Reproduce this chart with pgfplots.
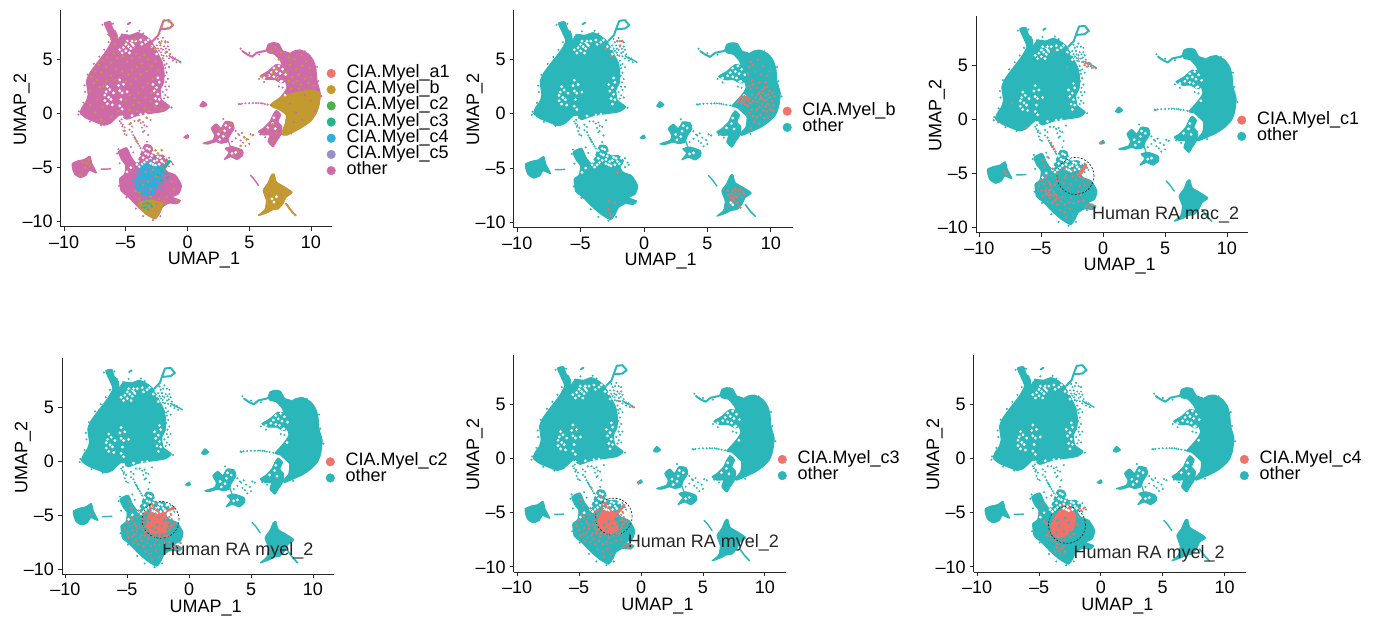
\documentclass[border=0pt]{standalone}
\usepackage{pgfplots}
\usepackage{fontspec}
\setmainfont{Liberation Sans}
\pgfplotsset{compat=1.18}
\definecolor{teal2}{HTML}{2BB7B9}
\definecolor{red2}{HTML}{EF736A}
\definecolor{gold2}{HTML}{C29A2F}
\definecolor{green1}{HTML}{4DB04A}
\definecolor{green2}{HTML}{25B58A}
\definecolor{blue2}{HTML}{2FAEDC}
\definecolor{purple2}{HTML}{9A8FC6}
\definecolor{pink2}{HTML}{CE6AA8}
\newcommand\fs{\fontsize{18}{20}\selectfont}
\pgfplotsset{
 umap/.style={
  scale only axis, clip=false, anchor=south west,
  xmin=-10.28,xmax=11.73,ymin=-10.5,ymax=9.57,
  axis lines=left, axis line style={-,line width=1pt,black!85},
  xtick={-10,-5,0,5,10}, xticklabels={–10,–5,0,5,10},
  ytick={-10,-5,0,5}, yticklabels={–10,–5,0,5},
  tick align=outside, major tick length=4pt, tick style={line width=0.8pt,black!85},
  tick label style={font=\fs},
  xticklabel style={yshift=-1.5pt},
  yticklabel style={xshift=-0.5pt},
  xlabel={UMAP\_1}, ylabel={UMAP\_2},
  label style={font=\fs},
  xlabel style={at={(axis description cs:0.5,0)},anchor=north,xshift=7.5pt,yshift=-22pt},
  ylabel style={at={(axis description cs:0,0.5)},anchor=south,rotate=0,yshift=27.5pt,xshift=9pt},
  legend cell align=left,
  legend style={draw=none,fill=none,inner sep=0pt,outer sep=0pt,row sep=0pt,
    anchor=north west,font=\fs,column sep=11pt,
    nodes={inner sep=0pt,text height=12.1pt,text depth=4.1pt}},
 },
 dots/.style={only marks,mark=*,mark size=#1,forget plot,mark options={draw=none}},
 blob/.style={fill=#1,draw=#1,line width=1pt,line join=round,forget plot,smooth cycle,tension=0.35},
 wire/.style={draw=#1,line width=2pt,line join=round,line cap=round,forget plot},
 lg/.style={only marks,mark=*,mark size=4.3pt,color=#1,mark options={draw=none}},
}
\newcommand\base[1]{%
% blob A: upper-left
\addplot[blob=#1] coordinates {(-8.70,0.03)(-8.54,0.59)(-8.22,1.12)(-8.06,1.74)(-8.19,2.98)(-7.91,3.76)(-7.43,4.53)(-6.90,5.31)(-6.51,5.93)(-6.17,6.71)(-6.43,7.48)(-6.75,8.35)(-6.25,8.48)(-6.06,7.86)(-5.72,7.33)(-5.64,6.55)(-5.32,5.62)(-4.66,5.62)(-4.01,5.93)(-3.48,6.40)(-2.82,6.40)(-2.37,5.47)(-2.03,4.69)(-1.90,3.76)(-1.95,2.83)(-2.21,2.20)(-2.11,1.27)(-1.45,0.65)(-1.95,0.19)(-3.21,-0.03)(-4.14,-0.22)(-4.93,-0.53)(-5.45,-0.12)(-5.72,-0.34)(-6.25,-0.90)(-6.77,-1.09)(-7.56,-0.75)(-8.22,-0.43)};
\addplot[blob=#1] coordinates {(-5.38,7.33)(-4.66,7.24)(-4.01,7.48)(-3.35,7.11)(-2.82,6.55)(-3.21,6.24)(-4.14,5.93)(-4.40,6.55)(-5.06,6.80)};
\addplot[blob=#1] coordinates {(-5.7,6.5)(-5.38,7.2)(-5.0,6.9)(-4.5,6.2)(-4.2,5.9)(-5.2,5.3)};
\addplot[wire=#1] coordinates {(-2.82,6.71)(-2.37,7.24)(-2.16,7.95)(-1.95,8.57)(-1.50,8.63)(-1.16,8.17)(-1.50,7.86)(-2.11,7.80)};
\addplot[wire=#1] coordinates {(-4.85,8.25)(-4.65,8.4)};
\addplot[wire=#1,line width=1.4pt] coordinates {(-1.5,5.35)(-1.2,5.1)(-0.85,4.95)(-0.55,4.75)};
\addplot[dots=0.8pt,color=#1] coordinates {(-2.3,6.6)(-2.1,6.7)(-1.8,6.7)(-1.6,6.6)(-2.2,6.3)(-1.9,6.2)(-1.6,6.2)(-1.5,5.9)(-2.0,5.9)(-2.3,5.8)(-1.8,5.6)(-1.4,5.5)(-2.1,5.4)(-1.7,5.3)(-1.5,5.1)(-1.2,5.2)(-1.0,5.1)(-0.9,4.75)(-1.2,4.9)(-1.9,4.9)(-1.7,4.6)(-1.5,4.3)(-1.7,3.8)(-1.6,3.2)(-1.5,2.5)(-1.7,2.2)(-1.8,1.7)(-1.6,1.5)(-2.0,7.0)(-2.4,6.9)(-4.9,7.6)(-3.9,7.65)(-3.6,7.4)
(-2.5,6.3)(-2.4,6.0)(-2.15,6.0)(-1.75,6.0)(-2.15,5.65)(-2.5,5.75)(-1.95,5.35)(-1.65,5.7)(-2.25,5.1)(-1.85,4.5)(-1.8,4.2)(-1.85,3.5)(-1.75,2.9)(-1.8,2.5)(-2.0,2.0)(-1.9,1.4)
(-8.8,0.2)(-8.45,1.0)(-8.3,2.0)(-8.35,2.6)(-8.1,3.6)(-7.6,4.6)(-7.15,5.25)(-6.75,5.9)(-6.4,6.6)(-6.9,8.2)(-6.05,8.3)(-5.85,7.6)(-8.85,-0.1)(-7.9,-0.75)(-7.0,-1.1)(-1.3,0.55)
(-5.5,-0.7)(-5.4,-0.9)(-5.3,-1.2)(-5.1,-1.3)(-5.2,-1.6)(-5.1,-1.9)(-4.95,-2.0)(-4.7,-1.0)(-4.5,-1.2)(-4.7,-1.5)(-4.5,-1.7)(-4.4,-2.0)(-4.3,-2.2)(-4.2,-2.4)(-4.1,-2.6)(-4.0,-2.8)(-3.9,-3.0)(-3.8,-3.2)(-4.3,-0.7)(-4.0,-0.7)(-3.8,-0.9)(-3.6,-0.8)(-3.5,-1.1)(-3.3,-1.2)(-3.7,-1.3)(-3.6,-1.7)(-3.5,-1.6)(-3.0,-0.6)(-3.2,-2.0)(-3.3,-2.6)(-4.25,-2.3)(-4.15,-2.55)(-5.25,-1.05)(-5.35,-0.55)};
% blob B: right crescent
\addplot[blob=#1] coordinates {(6.93,0.71)(7.46,1.40)(7.85,1.96)(8.06,2.45)(7.85,3.29)(7.80,4.22)(7.80,5.16)(8.17,5.47)(8.64,5.78)(9.17,5.87)(9.83,5.47)(10.22,4.84)(10.41,4.07)(10.49,2.98)(10.75,1.89)(10.62,0.65)(10.36,-0.12)(9.83,-0.75)(9.17,-1.27)(8.38,-1.68)(7.72,-1.99)(7.59,-1.83)(8.04,-1.21)(8.12,-0.28)(7.72,0.19)(7.33,0.59)};
\addplot[blob=#1] coordinates {(6.40,5.93)(6.53,6.40)(6.93,6.55)(7.38,6.46)(7.72,5.8)(8.3,5.5)(7.85,4.07)(7.54,4.84)(7.06,5.47)(6.53,5.62)};
\addplot[wire=#1] coordinates {(4.43,5.78)(4.82,5.47)(5.22,5.25)(5.61,5.62)(6.27,5.78)(6.53,5.93)};
\addplot[blob=#1] coordinates {(5.88,3.45)(6.53,3.91)(7.19,4.53)(7.85,4.3)(7.9,3.0)(7.59,2.83)(7.06,3.14)(6.40,3.14)};
\addplot[blob=#1] coordinates {(5.74,-1.68)(6.14,-1.37)(6.67,-0.75)(6.93,-0.12)(7.19,0.28)(7.54,-0.12)(7.33,-0.75)(7.64,-1.21)(7.54,-1.99)(7.19,-2.61)(6.93,-3.07)(6.53,-2.61)(6.67,-1.99)(6.14,-1.99)};
\addplot[dots=0.8pt,color=#1] coordinates {(4.16,0.87)(4.25,0.85)(4.4,0.9)(4.69,0.93)(5.0,0.95)(5.3,0.95)(5.55,0.96)(5.74,0.96)(5.95,0.95)(6.1,0.92)(6.27,0.87)(6.5,0.83)(6.8,0.77)(4.3,6.0)(5.8,3.2)(6.2,2.9)(7.4,2.5)(7.7,2.4)(5.9,-1.95)(6.3,-2.2)(10.85,1.6)(10.6,3.0)(10.5,4.3)(9.5,5.75)(8.4,-1.85)(5.8,5.45)(5.0,5.6)};
% blob C: middle cluster
\addplot[blob=#1] coordinates {(1.26,-2.76)(2.06,-2.45)(2.19,-1.99)(1.92,-1.37)(2.32,-0.96)(2.71,-1.37)(3.06,-0.75)(3.64,-0.84)(3.77,-1.37)(3.37,-2.14)(3.24,-2.61)(2.71,-2.76)(2.32,-2.61)(1.66,-2.83)};
\addplot[blob=#1] coordinates {(3.06,-3.23)(3.64,-3.07)(4.43,-3.39)(4.48,-3.85)(4.03,-4.25)(3.50,-4.01)(2.98,-4.25)(3.37,-3.63)};
\addplot[wire=#1,line width=1.2pt] coordinates {(3.3,-2.5)(3.5,-3.2)};
\addplot[dots=0.8pt,color=#1] coordinates {(3.9,-1.6)(4.2,-2.0)(4.6,-2.2)(5.1,-1.9)(5.3,-2.0)(4.9,-2.4)(4.5,-2.7)(4.3,-2.5)(3.9,-2.3)(4.7,-3.0)(5.0,-2.8)(4.1,-1.9)(3.6,-2.6)(2.9,-0.5)(4.4,-1.8)};
\addplot[blob=#1] coordinates {(-0.3,-2.2)(0.0,-1.95)(0.1,-2.2)(-0.1,-2.3)};
\addplot[blob=#1] coordinates {(1.0,0.71)(1.26,1.12)(1.58,0.8)(1.26,0.59)};
% blob D: lower
\addplot[blob=#1] coordinates {(-5.45,-6.80)(-5.51,-6.02)(-5.11,-5.62)(-5.01,-4.78)(-5.32,-4.32)(-5.59,-3.54)(-4.93,-3.17)(-4.58,-4.01)(-4.14,-4.63)(-3.87,-4.01)(-3.48,-2.92)(-2.95,-3.01)(-2.69,-3.85)(-2.03,-3.85)(-1.63,-4.32)(-1.90,-4.94)(-1.63,-5.40)(-0.97,-5.71)(-0.50,-6.65)(-0.71,-7.42)(-1.24,-7.73)(-0.58,-8.04)(-0.84,-8.35)(-1.50,-8.29)(-2.03,-8.66)(-2.29,-9.29)(-2.64,-9.75)(-3.35,-9.29)(-4.06,-8.60)(-4.80,-7.73)(-5.38,-7.17)};
\addplot[dots=0.8pt,color=#1] coordinates {(-1.5,-4.1)(-1.3,-4.5)(-1.2,-4.7)(-1.5,-4.9)(-5.6,-3.3)(-5.7,-3.7)(-4.6,-3.1)(-4.4,-3.6)(-5.5,-4.6)(-5.55,-6.7)(-4.95,-7.75)(-4.2,-8.8)(-3.6,-9.5)(-2.8,-9.85)(-2.2,-9.5)};
% blob E: far left
\addplot[blob=#1] coordinates {(-9.35,-4.63)(-8.88,-4.38)(-8.35,-4.25)(-7.91,-3.94)(-7.75,-4.63)(-7.38,-5.50)(-7.96,-5.25)(-8.22,-5.71)(-8.70,-5.93)(-9.14,-5.62)(-9.32,-5.09)};
\addplot[wire=#1,line width=1.4pt] coordinates {(-7.0,-5.15)(-6.6,-5.15)(-6.25,-5.12)};
% blob F: lower right
\addplot[blob=#1] coordinates {(6.80,-5.71)(7.01,-5.62)(7.19,-6.34)(7.85,-6.80)(8.46,-7.30)(7.98,-7.73)(7.72,-8.35)(7.33,-8.82)(6.85,-8.91)(6.53,-9.13)(5.74,-9.44)(6.27,-8.91)(6.40,-8.04)(6.14,-7.11)(6.53,-6.43)};
\addplot[wire=#1,line width=1.4pt] coordinates {(5.09,-5.71)(5.35,-6.02)(5.74,-6.65)};
\addplot[wire=#1,line width=1.6pt] coordinates {(7.98,-8.35)(8.38,-8.98)(8.77,-9.44)};
% gaps
\addplot[dots=1.2pt,color=white] coordinates {(-6.7,1.7)(-6.6,2.0)(-6.4,1.5)(-6.3,2.2)(-6.7,1.2)(-6.5,0.9)(-6.2,1.3)(-6.0,1.9)(-6.1,0.8)(-6.5,2.5)(-5.5,2.1)(-5.4,1.3)(-5.3,1.9)(-5.6,2.6)(-5.5,0.7)(-5.3,0.4)(-5.2,2.7)(-4.9,2.0)(-5.5,3.1)(-2.7,2.1)(-2.5,2.4)(-2.4,1.8)(-2.6,1.4)(-2.3,1.3)(-2.5,0.9)(-2.8,2.7)(-2.3,2.9)(-2.4,3.3)
(-5.0,6.4)(-4.8,6.2)(-4.6,6.0)(-4.4,6.3)(-4.9,6.7)(-4.5,6.7)(-4.2,6.7)(-3.8,6.8)(-3.4,6.6)(-3.2,6.8)(-3.7,6.4)(-5.2,6.1)(-5.0,5.8)(-5.3,5.6)(-5.5,5.9)(-4.7,5.6)(-2.9,6.2)(-2.6,6.0)(-2.5,5.5)(-3.8,-0.1)(-3.4,-0.05)(-4.5,-0.2)(-5.3,-0.3)
(-4.4,-4.0)(-4.2,-3.4)(-4.0,-4.4)(-3.7,-4.7)(-3.3,-4.3)(-3.0,-4.2)(-2.8,-4.7)(-3.2,-3.8)(-2.5,-4.3)(-2.3,-4.7)(-3.9,-4.9)(-4.6,-5.0)(-4.9,-5.4)(-2.2,-4.1)
(-3.6,-3.4)(-3.4,-3.7)(-3.1,-3.3)(-2.8,-3.6)(-3.6,-4.1)(-3.0,-4.6)(-3.5,-4.5)(-2.6,-4.8)(-2.1,-4.4)(-2.4,-4.0)(-1.95,-4.6)(-1.8,-4.1)(-2.9,-3.9)(-2.7,-4.4)(-3.9,-3.9)(-4.1,-4.7)(-3.3,-3.2)
(6.6,3.5)(6.8,3.8)(7.0,3.4)(7.2,3.9)(7.3,3.3)(7.5,3.7)(7.0,4.2)(7.4,4.4)(7.65,3.0)(7.7,4.1)(7.55,2.95)(6.2,3.3)(7.9,1.7)(7.95,3.6)(6.9,-0.9)(7.1,-1.4)(7.0,-0.4)(6.5,-1.3)
(3.0,-1.6)(2.9,-2.1)(2.5,-1.9)(3.4,-1.3)(3.1,-1.1)(2.6,-2.4)(3.9,-3.6)(3.6,-3.7)};
}
\newcommand\Sone{\addplot[dots=1.0pt,color=red2] coordinates {(-3.7,-5.0)(-3.4,-4.8)(-3.1,-4.6)(-2.8,-4.4)(-2.5,-4.7)(-2.2,-4.9)(-1.9,-5.3)(-1.7,-5.7)(-1.5,-6.1)(-1.6,-6.5)(-1.9,-6.2)(-2.2,-5.8)(-2.5,-5.3)(-2.8,-5.1)(-3.1,-5.4)(-3.4,-5.6)(-3.7,-5.7)(-3.5,-6.1)(-3.2,-5.9)(-2.9,-5.7)(-2.6,-6.0)(-2.3,-6.3)(-2.0,-6.7)(-2.4,-6.8)(-2.8,-6.4)(-3.1,-6.7)(-3.4,-6.5)(-3.7,-6.4)(-3.9,-6.1)(-3.6,-6.9)(-3.3,-7.2)(-2.9,-7.0)(-2.6,-7.3)(-2.2,-7.1)(-1.8,-7.0)(-1.4,-5.4)(-1.2,-5.8)(-2.7,-5.6)(-3.0,-5.2)(-2.4,-5.5)(-2.1,-5.1)(-2.0,-5.9)(-3.3,-5.1)(-2.7,-4.9)(-3.8,-5.4)(-1.7,-6.9)(-3.0,-6.1)(-2.55,-6.6)(-3.55,-5.3)(-3.45,-5.95)(-3.65,-6.15)(-3.55,-6.6)(-3.25,-6.9)(-2.75,-6.85)(-2.4,-7.0)(-1.95,-6.95)(-1.55,-6.3)(-1.35,-6.0)(-1.5,-5.7)(-1.6,-5.2)(-3.15,-4.3)(-2.95,-4.15)(-2.6,-4.5)(-3.6,-4.8)(-1.85,-6.55)(-1.45,-5.0)};}
\newcommand\Stwo{\addplot[dots=1.0pt,color=red2] coordinates {(-5.2,-6.2)(-5.0,-6.6)(-4.8,-6.0)(-4.6,-6.4)(-4.4,-6.8)(-4.2,-6.2)(-4.9,-7.1)(-4.6,-7.0)(-4.3,-7.3)(-4.0,-7.1)(-3.8,-7.4)(-4.5,-7.6)(-4.1,-7.7)(-3.7,-7.9)(-3.4,-7.6)(-3.1,-7.9)(-2.8,-7.7)(-2.4,-7.8)(-2.0,-7.6)(-1.6,-7.5)(-1.2,-7.9)(-1.0,-8.2)(-0.9,-7.9)(-1.4,-8.1)(-3.5,-8.4)(-3.1,-8.6)(-2.7,-8.3)(-2.4,-8.9)(-3.0,-9.1)(-4.6,-5.4)(-4.2,-5.2)(-4.4,-5.8)(-4.8,-5.2)(-5.0,-5.7)(-4.1,-4.6)(-4.7,-4.4)(-4.9,-3.8)(-4.2,-6.5)(-3.9,-6.9)(-4.3,-6.0)};}
\newcommand\lab[3]{\node[anchor=base west,font=\fs,text=black!85,inner sep=0pt] at (axis cs:#1,#2) {Human RA #3\_2};}
\newcommand\ring[2]{\node[draw=black!85,dashed,line width=0.7pt,dash pattern=on 2pt off 1.6pt,circle,minimum size=37pt,inner sep=0pt,fill=none] at (axis cs:#1,#2) {};}
\begin{document}
\begin{tikzpicture}
\useasboundingbox (0pt,0pt) rectangle (1386pt,621pt);
% Panel 1
\begin{axis}[umap,at={(60.7pt,394pt)},width=271.6pt,height=217pt,legend style={at={(0.9801,0.745)}}]
\addlegendimage{lg=red2}\addlegendentry{CIA.Myel\_a1}
\addlegendimage{lg=gold2}\addlegendentry{CIA.Myel\_b}
\addlegendimage{lg=green1}\addlegendentry{CIA.Myel\_c2}
\addlegendimage{lg=green2}\addlegendentry{CIA.Myel\_c3}
\addlegendimage{lg=blue2}\addlegendentry{CIA.Myel\_c4}
\addlegendimage{lg=purple2}\addlegendentry{CIA.Myel\_c5}
\addlegendimage{lg=pink2}\addlegendentry{other}
\base{pink2}
\addplot[blob=gold2] coordinates {(6.69,0.77)(7.64,1.55)(8.58,1.86)(9.93,2.17)(10.74,1.86)(10.61,0.62)(10.07,-0.62)(9.12,-1.39)(8.04,-2.01)(7.64,-1.86)(7.91,-0.93)(7.99,-0.15)(7.5,0.31)};
\addplot[blob=gold2] coordinates {(6.80,-5.71)(7.01,-5.62)(7.19,-6.34)(7.85,-6.80)(8.46,-7.30)(7.98,-7.73)(7.72,-8.35)(7.33,-8.82)(6.85,-8.91)(6.53,-9.13)(5.74,-9.44)(6.27,-8.91)(6.40,-8.04)(6.14,-7.11)(6.53,-6.43)};
\addplot[wire=gold2,line width=1.6pt] coordinates {(7.98,-8.35)(8.38,-8.98)(8.77,-9.44)};
\addplot[dots=1.2pt,color=white] coordinates {(6.85,-7.9)(7.0,-8.2)(7.2,-7.7)};
\addplot[blob=gold2] coordinates {(-4.0,-8.3)(-3.0,-8.0)(-2.0,-8.3)(-2.1,-8.7)(-2.6,-9.7)(-3.4,-9.3)};
\addplot[dots=1.1pt,color=gold2] coordinates {(-6.4,7.3)(-6.2,6.9)(-5.9,6.4)(-5.7,7.0)(-6.0,5.6)(-6.5,5.2)(-6.9,4.9)(-7.2,4.5)(-7.5,3.9)(-7.8,3.4)(-7.3,3.1)(-7.0,3.8)(-6.6,4.3)(-6.2,4.7)(-5.7,5.1)(-5.2,5.3)(-4.9,4.8)(-4.5,5.1)(-4.2,5.5)(-3.9,5.2)(-3.5,5.4)(-3.2,5.0)(-3.7,4.6)(-4.1,4.3)(-4.5,4.0)(-4.8,3.6)(-5.3,3.9)(-5.8,4.1)(-6.2,3.5)(-6.6,3.0)(-7.1,2.4)(-7.6,2.8)(-7.9,2.1)(-6.8,2.5)(-5.9,3.1)(-5.0,3.0)(-4.6,2.7)(-4.2,3.2)(-3.8,3.6)(-3.3,3.9)(-2.9,4.4)(-2.6,4.8)(-2.4,4.0)(-2.8,3.2)(-3.2,2.8)(-3.6,2.4)(-4.0,1.9)(-4.3,1.4)(-4.7,1.7)(-5.0,1.2)(-4.4,0.8)(-3.9,1.0)(-3.4,1.5)(-3.0,1.1)(-2.9,1.9)(-3.5,0.5)(-3.1,0.2)(-2.6,0.6)(-2.1,0.4)(-4.1,0.2)(-4.7,0.3)(-5.6,0.2)(-6.2,-0.3)(-7.0,-0.6)(-7.5,0.1)(-7.9,0.8)(-7.3,1.3)(-6.9,0.6)(-3.9,-0.6)(-3.3,-0.4)(-4.6,-0.9)(-5.1,-1.6)(-4.1,-2.6)(-5.0,6.6)(-4.3,6.8)(-3.6,7.0)(-3.0,6.2)(-2.6,6.0)(-2.2,6.5)(-1.8,6.6)(-1.7,5.7)(-2.0,5.1)(-1.9,8.6)(-1.5,8.5)(-1.2,8.2)(-1.6,7.9)(-2.1,8.0)(-2.3,7.4)
(8.2,5.2)(8.7,5.0)(9.2,5.4)(9.6,4.8)(9.9,4.2)(9.3,4.4)(8.8,4.1)(8.3,4.5)(7.6,5.6)(7.1,6.1)(6.8,5.8)(7.4,5.0)(8.0,3.8)(8.5,3.4)(9.0,3.6)(9.5,3.2)(10.0,3.4)(9.8,2.8)(9.2,2.7)(8.6,2.8)(8.2,3.0)(7.8,3.9)(6.5,3.5)(6.9,3.7)(7.2,4.1)(7.3,3.3)(10.2,2.6)(9.0,2.3)(8.4,2.3)(8.9,3.0)(6.0,3.4)
(3.3,-1.2)(3.5,-1.0)(2.6,-1.6)(4.1,-3.6)(3.7,-3.9)(3.1,-2.0)(4.6,-2.2)(4.8,-2.4)(5.3,-2.0)(4.3,-3.0)(6.9,-1.0)(7.2,-1.8)(7.0,-2.5)(6.5,-1.5)
(-8.5,-4.5)(-8.2,-4.6)(-8.0,-4.3)(-7.9,-4.8)(-8.3,-5.0)(-8.7,-5.7)(-2.9,-3.2)(-2.6,-3.4)(-2.4,-3.7)(-2.1,-3.4)(-1.9,-4.2)(-3.9,-7.9)(-3.0,-7.7)(-2.3,-7.9)(-1.9,-8.1)(-1.7,-7.7)(-4.2,-7.2)(-0.9,-8.0)(-1.3,-6.3)(-1.1,-7.0)};
\addplot[dots=0.9pt,color=pink2] coordinates {(8.6,-0.8)(8.8,0.1)(9.3,-0.6)(10.3,0.2)(10.0,1.2)(9.5,1.7)(8.3,0.9)(7.3,-8.3)(7.6,-7.5)(6.6,-7.6)(-3.2,-8.9)(-2.6,-9.0)(-2.5,-8.4)(-3.7,-8.7)};
\addplot[blob=blue2] coordinates {(-3.56,-4.64)(-2.48,-4.64)(-1.94,-5.26)(-2.27,-6.35)(-2.89,-7.59)(-3.83,-7.43)(-4.24,-6.81)(-4.10,-5.88)};
\addplot[dots=1.0pt,color=blue2] coordinates {(-3.4,-8.3)(-3.3,-8.6)(-3.5,-8.0)(-3.1,-7.9)(-2.6,-7.4)(-2.2,-6.9)(-2.0,-6.5)(-1.8,-6.0)(-3.0,-4.3)(-2.6,-4.2)(-3.8,-4.8)(-4.1,-5.2)(-4.4,-6.2)(-3.2,-8.9)(-3.6,-8.4)(-3.0,-8.4)(-1.7,-5.5)};
\addplot[dots=1.0pt,color=pink2] coordinates {(-3.9,-6.2)(-3.7,-7.1)(-3.4,-6.9)(-3.1,-7.3)(-2.7,-6.9)(-2.5,-6.4)(-2.3,-5.9)(-3.3,-5.1)(-3.8,-5.6)(-2.9,-6.0)(-3.5,-6.2)(-2.6,-5.0)(-4.0,-6.6)(-3.0,-5.4)};
\addplot[dots=1.0pt,color=gold2] coordinates {(-3.6,-6.6)(-3.2,-6.3)(-2.8,-5.2)(-3.4,-5.4)(-2.5,-5.8)(-3.9,-7.3)(-3.0,-7.0)};
\addplot[dots=1.0pt,color=green2] coordinates {(-2.1,-5.3)(-2.3,-5.0)(-1.8,-5.5)(-1.6,-5.9)(-2.4,-5.7)(-2.0,-4.7)(-0.6,4.75)(-3.2,-8.3)(-2.9,-8.6)(-3.5,-8.7)(-2.1,-6.2)};
\addplot[wire=green2,line width=3pt] coordinates {(-1.85,-5.0)(-1.45,-4.4)};
\addplot[dots=0.9pt,color=red2] coordinates {(-4.3,-7.1)};
\end{axis}
% Panel 2
\begin{axis}[umap,at={(513.7pt,393.3pt)},width=279pt,height=217.7pt,legend style={at={(0.9648,0.5724)}}]
\addlegendimage{lg=red2}\addlegendentry{CIA.Myel\_b}
\addlegendimage{lg=teal2}\addlegendentry{other}
\base{teal2}
\addplot[dots=1.1pt,color=red2] coordinates {(7.5,1.3)(7.7,1.2)(7.8,1.4)(7.9,1.05)(8.0,1.3)(8.1,1.5)(8.2,1.2)(8.3,1.4)(7.6,1.5)(7.9,1.6)(8.4,1.0)(7.7,0.95)(8.0,0.85)(8.2,0.7)(7.4,1.05)(8.5,1.7)(8.6,1.2)
(8.9,2.4)(9.1,2.0)(9.3,2.2)(9.5,2.4)(9.7,2.5)(9.9,2.1)(10.1,1.9)(10.3,1.6)(9.8,1.8)(9.6,1.7)(9.4,1.9)(9.2,1.6)(9.0,1.8)(8.8,1.5)(8.9,1.1)(9.1,1.3)(9.3,1.4)(9.5,1.2)(9.7,1.3)(9.9,1.5)(10.1,1.2)(10.2,0.8)(9.8,0.9)(9.6,0.7)(9.3,0.9)(9.1,0.6)(8.9,0.4)(9.4,0.3)(9.7,0.2)(10.0,0.4)(9.2,-0.1)(8.9,-0.3)(9.5,-0.4)(8.5,0.4)(8.3,0.1)(8.6,-0.2)(8.7,-0.7)(9.1,-0.9)(8.4,-1.3)(9.8,-0.3)(10.2,0.3)(8.4,2.3)(8.3,2.6)(8.6,2.7)(9.1,2.9)(9.6,2.9)(8.5,3.1)
(8.3,4.3)(8.4,4.8)(9.0,5.0)(9.4,4.4)(9.9,3.9)(8.8,3.9)(8.2,3.7)(9.2,3.6)(9.7,3.5)(8.6,4.5)
(6.7,-7.5)(6.8,-7.7)(6.9,-7.4)(7.0,-7.8)(7.1,-7.6)(7.2,-7.3)(7.3,-7.7)(7.4,-7.1)(7.5,-7.4)(7.6,-7.0)(7.8,-7.2)(7.9,-7.4)(7.0,-7.1)(6.8,-8.0)(7.1,-8.0)(7.4,-8.2)(7.5,-8.6)(7.6,-8.65)(6.7,-8.5)(7.2,-6.9)(7.7,-7.7)(6.6,-7.1)(7.0,-8.3)
(-2.1,6.7)(-1.9,6.7)(-1.7,6.7)(-3.0,6.0)(-2.6,5.3)(-1.9,6.3)(-2.7,-9.2)(-2.6,-9.4)(-2.8,-8.8)(-2.3,-8.2)(-2.1,-5.4)(-2.8,-8.0)};
\addplot[dots=1.2pt,color=white] coordinates {(6.85,-8.2)(7.0,-8.4)};
\end{axis}
% Panel 3
\begin{axis}[umap,at={(976pt,388.3pt)},width=272.3pt,height=217pt,legend style={at={(0.960,0.556)}}]
\addlegendimage{lg=red2}\addlegendentry{CIA.Myel\_c1}
\addlegendimage{lg=teal2}\addlegendentry{other}
\base{teal2}
\Stwo
\addplot[dots=1.0pt,color=red2] coordinates {(-3.7,-5.0)(-3.1,-4.6)(-2.5,-4.7)(-1.9,-5.3)(-1.5,-6.1)(-1.9,-6.2)(-2.5,-5.3)(-3.1,-5.4)(-3.7,-5.7)(-3.2,-5.9)(-2.6,-6.0)(-2.0,-6.7)(-2.8,-6.4)(-3.4,-6.5)(-3.9,-6.1)(-3.3,-7.2)(-2.6,-7.3)(-1.8,-7.0)(-1.2,-5.8)(-3.0,-5.2)(-2.1,-5.1)(-3.8,-5.4)(-1.0,-8.2)(-1.3,-8.4)(-1.6,-5.5)(-2.2,-5.6)
(-4.6,-6.9)(-4.4,-7.1)(-4.2,-7.0)(-4.0,-6.7)(-4.35,-6.6)(-3.75,-7.05)(-4.7,-6.6)(-3.9,-7.5)(-3.6,-7.3)
(-1.6,5.3)(-1.4,5.2)(-1.2,5.05)(-1.0,4.9)(-0.8,4.8)(-0.6,4.7)(-1.3,4.85)(-1.5,5.0)(-1.1,5.2)(-3.9,6.3)(-2.0,5.6)(-2.9,4.8)
(-4.2,-2.2)(-4.05,-2.5)(-3.95,-2.75)(-3.85,-3.0)(-4.5,-3.5)(-0.25,-2.25)(-0.2,-2.2)(-8.0,-4.8)(-7.9,-5.0)(-7.8,-5.1)(-8.5,-0.3)(-7.4,1.5)(-6.2,-0.8)};
\addplot[wire=red2,line width=4pt] coordinates {(-1.85,-5.0)(-1.45,-4.3)};
\ring{-2.24}{-5.25}
\lab{-0.91}{-9.26}{mac}
\end{axis}
% Panel 4
\begin{axis}[umap,at={(62pt,46.7pt)},width=272.3pt,height=216.6pt,legend style={at={(0.9695,0.5568)}}]
\addlegendimage{lg=red2}\addlegendentry{CIA.Myel\_c2}
\addlegendimage{lg=teal2}\addlegendentry{other}
\base{teal2}
\Stwo
\addplot[blob=red2] coordinates {(-3.05,-4.5)(-2.38,-4.81)(-1.9,-4.9)(-1.9,-5.4)(-1.7,-6.0)(-2.1,-6.6)(-3.05,-6.7)(-3.4,-6.1)(-3.3,-5.11)};
\Sone
\addplot[wire=red2,line width=2.6pt] coordinates {(-2.3,-4.9)(-1.2,-4.3)};
\addplot[dots=0.9pt,color=teal2] coordinates {(-2.9,-5.0)(-2.6,-5.9)(-2.2,-6.0)(-3.0,-6.2)(-2.4,-5.2)(-2.7,-6.4)(-2.0,-5.5)(-3.2,-5.5)};
\addplot[dots=1.0pt,color=red2] coordinates {(-8.0,-5.0)(-0.7,-7.6)(-3.2,-8.6)(-3.0,-4.0)(-2.7,-3.9)};
\ring{-2.31}{-5.45}
\lab{-2.18}{-8.78}{myel}
\end{axis}
% Panel 5
\begin{axis}[umap,at={(513.7pt,48.7pt)},width=272.6pt,height=217.3pt,legend style={at={(0.9695,0.5568)}}]
\addlegendimage{lg=red2}\addlegendentry{CIA.Myel\_c3}
\addlegendimage{lg=teal2}\addlegendentry{other}
\base{teal2}
\Stwo
\addplot[blob=red2] coordinates {(-3.0,-4.6)(-2.4,-4.9)(-1.9,-5.0)(-2.2,-5.6)(-1.9,-6.4)(-2.4,-6.9)(-3.1,-6.7)(-3.5,-6.0)(-3.3,-5.2)};
\Sone
\addplot[wire=red2,line width=3pt] coordinates {(-2.4,-5.1)(-1.9,-5.0)(-1.35,-4.3)};
\addplot[dots=0.9pt,color=teal2] coordinates {(-3.0,-6.1)(-2.6,-5.8)(-2.3,-6.2)(-2.8,-6.5)};
\addplot[dots=1.0pt,color=red2] coordinates {(-0.7,4.8)(-0.6,4.75)(-1.8,5.3)(-0.2,-2.3)(-4.0,-2.7)(-3.2,-3.5)(-3.0,-4.1)(-2.8,-4.2)};
\ring{-2.21}{-5.36}
\lab{-1.07}{-8.2}{myel}
\end{axis}
% Panel 6
\begin{axis}[umap,at={(973.7pt,48.7pt)},width=272.3pt,height=217.3pt,legend style={at={(0.978,0.5568)}}]
\addlegendimage{lg=red2}\addlegendentry{CIA.Myel\_c4}
\addlegendimage{lg=teal2}\addlegendentry{other}
\base{teal2}
\addplot[blob=red2] coordinates {(-3.0,-4.55)(-2.5,-4.6)(-2.1,-5.1)(-2.05,-5.8)(-2.3,-6.6)(-2.8,-7.1)(-3.4,-7.3)(-3.9,-7.0)(-4.05,-6.3)(-3.8,-5.5)(-3.4,-4.9)};
\addplot[dots=1.0pt,color=red2] coordinates {(-4.1,-7.2)(-4.0,-7.5)(-3.7,-7.6)(-3.5,-7.9)(-3.2,-7.6)(-2.9,-7.5)(-2.5,-7.2)(-2.2,-7.0)(-3.6,-8.2)(-3.4,-8.5)(-3.2,-8.3)(-3.0,-8.1)(-3.3,-8.8)(-2.9,-8.6)(-3.7,-8.6)(-1.9,-6.1)(-1.8,-5.4)(-1.6,-4.8)(-1.4,-4.6)(-1.7,-4.6)(-4.4,-6.0)(-4.6,-5.8)(-5.0,-5.1)(-4.7,-4.2)(-4.0,-3.4)(-4.2,-6.8)(-3.1,-4.3)(-4.4,-7.1)(-2.6,-4.3)};
\addplot[dots=0.9pt,color=teal2] coordinates {(-3.4,-6.2)(-3.0,-6.7)(-2.6,-5.9)(-3.5,-5.7)(-2.5,-6.8)(-3.6,-6.8)(-2.9,-5.5)};
\ring{-2.74}{-6.12}
\lab{-2.23}{-9.21}{myel}
\end{axis}
\end{tikzpicture}
\end{document}
